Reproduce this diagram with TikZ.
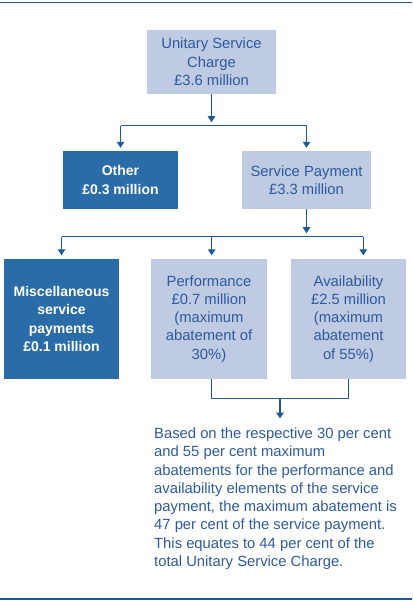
\documentclass[tikz,border=0pt]{standalone}
\usepackage{fontspec}
\setmainfont{Liberation Sans}
\usetikzlibrary{arrows.meta}
\definecolor{lightbox}{HTML}{BFCAE3}
\definecolor{darkbox}{HTML}{2A6CA7}
\definecolor{txtblue}{HTML}{2D5A9E}
\definecolor{linecol}{HTML}{1E5A96}
\begin{document}
\begin{tikzpicture}[x=1pt,y=-1pt,
  lbox/.style={fill=lightbox,draw=none,inner sep=0pt,align=center,text=txtblue,
    font=\fontsize{14.8}{18.3}\selectfont},
  dbox/.style={fill=darkbox,draw=none,inner sep=0pt,align=center,text=white,
    font=\fontsize{14}{18.3}\selectfont\bfseries},
  conn/.style={draw=linecol,line width=1.3pt},
  arr/.style={conn,-{Triangle[width=7.5pt,length=6pt]}}]
\useasboundingbox (0,0) rectangle (412,609);
% rules
\coordinate (rt1) at (0,2.5); \coordinate (rt2) at (412,2.5);
\coordinate (rb1) at (0,599); \coordinate (rb2) at (412,599);
\draw[draw=linecol,line width=1.5pt] (rt1) -- (rt2);
\draw[draw=linecol,line width=1.5pt] (rb1) -- (rb2);
% boxes
\node[lbox,minimum width=129pt,minimum height=64pt] (top) at (211.5,62) {Unitary Service\\Charge\\£3.6 million};
\node[dbox,minimum width=115pt,minimum height=58pt] (other) at (120.5,180) {Other\\£0.3 million};
\node[lbox,minimum width=129pt,minimum height=58pt] (serv) at (306.5,180) {Service Payment\\£3.3 million};
\node[dbox,minimum width=115pt,minimum height=119.7pt] (misc) at (61.5,318.85) {Miscellaneous\\service\\payments\\£0.1 million};
\node[lbox,minimum width=116pt,minimum height=119.7pt] (perf) at (209,318.85) {Performance\\£0.7 million\\(maximum\\abatement of\\30\%)};
\node[lbox,minimum width=115pt,minimum height=119.7pt] (avail) at (348.5,318.85) {Availability\\£2.5 million\\(maximum\\abatement\\ of 55\%)};
\node[anchor=north west,inner sep=0pt,align=left,text=txtblue,
  font=\fontsize{14.8}{18.3}\selectfont] (note) at (154,427.5)
  {Based on the respective 30 per cent\\and 55 per cent maximum\\abatements for the performance and\\availability elements of the service\\payment, the maximum abatement is\\47 per cent of the service payment.\\This equates to 44 per cent of the\\total Unitary Service Charge.};
% junctions
\coordinate (j1) at (211.5,125.7);
\coordinate (j1l) at (120.5,125.7);
\coordinate (j1r) at (306.5,125.7);
\coordinate (j2) at (306.5,236.7);
\coordinate (j2l) at (61.5,236.7);
\coordinate (j2m) at (211.7,236.7);
\coordinate (j2r) at (363.3,236.7);
\coordinate (j3l) at (211.7,398.3);
\coordinate (j3r) at (348.5,398.3);
\coordinate (j3m) at (280,398.3);
% connectors
\draw[arr,shorten >=3.5pt] (top.south) -- (j1);
\draw[conn] (j1l) -- (j1r);
\draw[arr,shorten >=3pt] (j1l) -- (other.north);
\draw[arr,shorten >=3pt] (j1r) -- (serv.north);
\draw[arr,shorten >=3.5pt] (serv.south) -- (j2);
\draw[conn] (j2l) -- (j2r);
\draw[arr,shorten >=3.5pt] (j2l) -- (misc.north);
\draw[arr,shorten >=3.5pt] (j2m) -- (j2m |- perf.north);
\draw[arr,shorten >=3.5pt] (j2r) -- (j2r |- avail.north);
\draw[conn] (j3l |- perf.south) -- (j3l) -- (j3r) -- (avail.south);
\draw[arr,shorten >=9pt] (j3m) -- (j3m |- note.north);
\end{tikzpicture}
\end{document}
